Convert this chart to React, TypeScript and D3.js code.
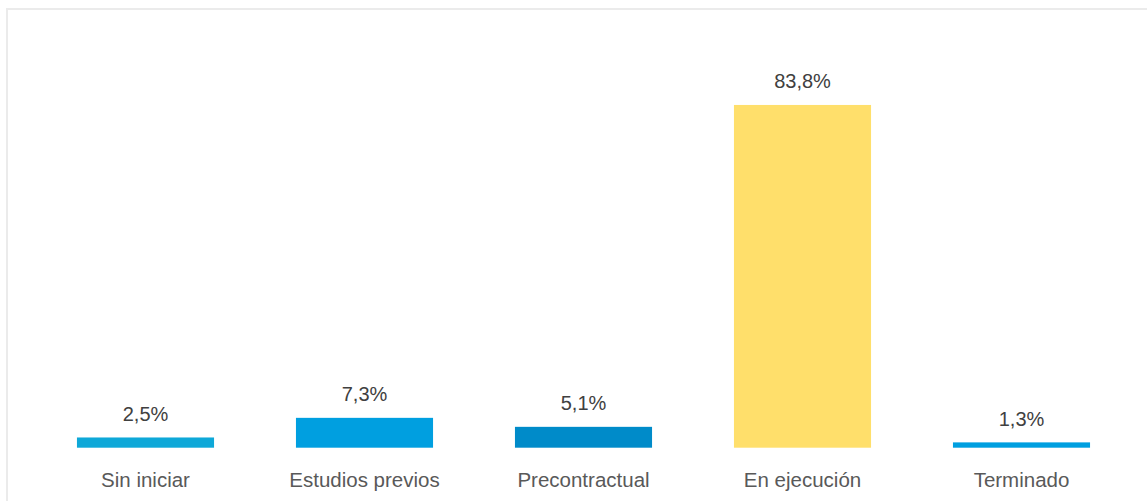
import React from "react";
import * as d3 from "d3";

const categories = ["Sin iniciar", "Estudios previos", "Precontractual", "En ejecución", "Terminado"];
const values = [2.5, 7.3, 5.1, 83.8, 1.3];
const valueLabels = ["2,5%", "7,3%", "5,1%", "83,8%", "1,3%"];
const colors = ["#0EA8D8", "#009FE0", "#008BC9", "#FFDF6B", "#009FE0"];

const W = 1147;
const H = 501;

export default function App() {
  const x = d3.scaleBand<string>().domain(categories).range([36, 1131]).paddingInner(0.374).paddingOuter(0.187);
  const y = d3.scaleLinear().domain([0, 90]).range([447.7, 79.6]);
  return (
    <svg
      width={W}
      height={H}
      style={{ position: "absolute", left: 0, top: 0 }}
      fontFamily="'Liberation Sans', Arial, sans-serif"
    >
      <rect x={0} y={0} width={W} height={H} fill="#fff" />
      <rect x={7} y={9} width={W + 20} height={H + 20} fill="none" stroke="#ebebeb" strokeWidth={2} />
      {categories.map((c, i) => {
        const bx = x(c)!;
        const top = y(values[i]);
        return (
          <g key={c}>
            <rect x={bx} y={top} width={x.bandwidth()} height={y(0) - top} fill={colors[i]} />
            <text x={bx + x.bandwidth() / 2} y={top - 16.6} textAnchor="middle" fontSize={20} fill="#404040">
              {valueLabels[i]}
            </text>
            <text x={bx + x.bandwidth() / 2} y={486.7} textAnchor="middle" fontSize={20.5} fill="#595959">
              {c}
            </text>
          </g>
        );
      })}
    </svg>
  );
}
